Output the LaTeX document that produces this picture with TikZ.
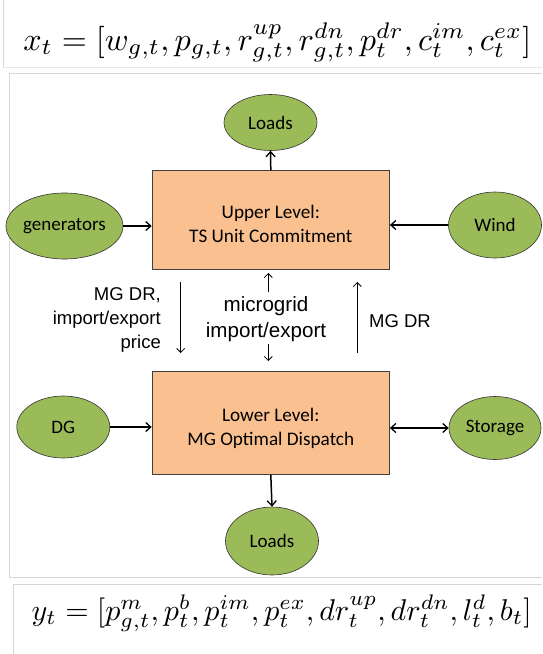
\documentclass[tikz,border=0pt]{standalone}
\usepackage{fontspec}
\usepackage{graphicx}
\usetikzlibrary{shapes.geometric,arrows.meta,calc}
\newfontfamily\carl{Carlito}
\newfontfamily\arialf{Liberation Sans}
\definecolor{peach}{HTML}{FAC090}
\definecolor{olive}{HTML}{9BBB59}
\definecolor{framegray}{HTML}{D6D6D6}
\begin{document}
\begin{tikzpicture}[x=1pt,y=-1pt,
  ell/.style={ellipse,draw=black!80,line width=0.6pt,fill=olive,inner sep=0pt,font=\carl\fontsize{19}{23}\selectfont},
  levelbox/.style={rectangle,draw=black!75,line width=0.6pt,fill=peach,inner sep=0pt},
  boxtext/.style={align=center,font=\carl\fontsize{19.2}{24}\selectfont},
  thickarrow/.style={line width=1.5pt,-{Straight Barb[length=5pt,width=9pt,line width=1.3pt]}},
  thinarrow/.style={line width=0.8pt,-{Straight Barb[length=4pt,width=8pt,line width=0.8pt]}},
  lbl/.style={font=\arialf\fontsize{18.5}{23.8}\selectfont},
  frame/.style={draw=framegray,line width=0.8pt}]
\useasboundingbox (0,0) rectangle (542,654);
\fill[white] (0,0) rectangle (542,654);
% frames
\draw[frame] (3.3,0) -- (3.3,67.5);
\draw[draw=framegray!60,line width=0.6pt] (3.3,67.5) -- (542,67.5);
\draw[frame] (542,73.5) -- (9.7,73.5) -- (9.7,577.6) -- (542,577.6);
\draw[frame] (542,584.4) -- (13.3,584.4) -- (13.3,654);
% equations
\node[anchor=base,inner sep=0pt] (eqx) at (277.3,50) {\resizebox{508pt}{!}{$x_t=[w_{g,t},p_{g,t},r^{up}_{g,t},r^{dn}_{g,t},p^{dr}_t,c^{im}_t,c^{ex}_t]$}};
\node[anchor=base,inner sep=0pt] (eqy) at (281.7,620) {\resizebox{500pt}{!}{$y_t=[p^m_{g,t},p^b_t,p^{im}_t,p^{ex}_t,dr^{up}_t,dr^{dn}_t,l^d_t,b_t]$}};
% boxes
\node[levelbox,minimum width=237.6pt,minimum height=99pt] (upper) at (270.8,220.2) {};
\node[boxtext] (uppertext) at (270.8,224) {Upper Level:\\TS Unit Commitment};
\node[levelbox,minimum width=237.6pt,minimum height=103.6pt] (lower) at (270.8,422.8) {};
\node[boxtext] (lowertext) at (270.8,428.5) {Lower Level:\\MG Optimal Dispatch};
% ellipses
\node[ell,minimum width=93pt,minimum height=56pt] (loadsT) at (270.5,122.5) {Loads};
\node[ell,minimum width=98pt,minimum height=66pt] (gen) at (64.5,226) {generators};
\node[ell,minimum width=93pt,minimum height=66pt] (wind) at (495,225) {Wind};
\node[ell,minimum width=93pt,minimum height=62pt] (dg) at (63.3,427) {DG};
\node[ell,minimum width=92pt,minimum height=63pt] (storage) at (495,428) {Storage};
\node[ell,minimum width=93pt,minimum height=68pt] (loadsB) at (272,541) {Loads};
% thick connectors
\draw[thickarrow] (upper.north) -- (loadsT.south);
\draw[thickarrow] (gen.east) -- (gen.east -| upper.west);
\draw[thickarrow] (wind.west) -- (wind.west -| upper.east);
\draw[thickarrow] (dg.east) -- (dg.east -| lower.west);
\draw[line width=1.5pt,{Straight Barb[length=5pt,width=9pt,line width=1.3pt]}-{Straight Barb[length=5pt,width=9pt,line width=1.3pt]}] (storage.west) -- (storage.west -| lower.east);
\draw[thickarrow] (lower.south) -- (loadsB.north);
% thin connectors
\coordinate (a1) at (180.7,282);
\coordinate (a2) at (180.7,353);
\coordinate (b1) at (268.3,292);
\coordinate (b2) at (268.3,273);
\coordinate (c1) at (268.3,344);
\coordinate (c2) at (268.3,361);
\coordinate (d1) at (357.3,353);
\coordinate (d2) at (357.3,282);
\draw[thinarrow] (a1) -- (a2);
\draw[thinarrow] (b1) -- (b2);
\draw[thinarrow] (c1) -- (c2);
\draw[thinarrow] (d1) -- (d2);
% labels
\node[lbl,anchor=east,align=right,inner sep=0pt] (lblL) at (161,320) {MG DR,\\import/export\\price};
\node[lbl,align=center,inner sep=0pt,font=\arialf\fontsize{20.6}{25.7}\selectfont] (lblM) at (266,319.5) {microgrid\\import/export};
\node[lbl,anchor=west,inner sep=0pt] (lblR) at (369,321.5) {MG DR};
\end{tikzpicture}
\end{document}
